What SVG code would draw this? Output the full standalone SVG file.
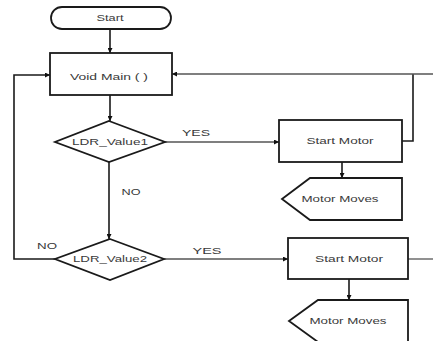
<svg xmlns="http://www.w3.org/2000/svg" width="433" height="341" viewBox="0 0 433 341">
<defs>
<marker id="ah" viewBox="0 0 10 10" refX="10" refY="5" markerWidth="5" markerHeight="5" orient="auto" markerUnits="userSpaceOnUse">
<path d="M0,0 L10,5 L0,10 z" fill="#111"/>
</marker>
<style>
.shape{fill:#fff;stroke:#1a1a1a;stroke-width:1.8}
.line{fill:none;stroke:#1a1a1a;stroke-width:1.6}
.thin{fill:none;stroke:#555;stroke-width:1.3}
text{font-family:"Liberation Sans",Arial,sans-serif;font-size:9px;fill:#3a3a3a;text-anchor:middle}
</style>
</defs>
<rect width="433" height="341" fill="#fff"/>
<g id="connectors">
<line class="line" x1="110" y1="29" x2="110" y2="53" marker-end="url(#ah)"/>
<line class="line" x1="110" y1="95" x2="110" y2="121" marker-end="url(#ah)"/>
<line class="line" x1="109" y1="162" x2="109" y2="239" marker-end="url(#ah)"/>
<line class="thin" x1="165" y1="142" x2="279" y2="142" marker-end="url(#ah)"/>
<line class="thin" x1="164" y1="259" x2="288" y2="259" marker-end="url(#ah)"/>
<polyline class="line" points="55,259 14,259 14,75 50,75" marker-end="url(#ah)"/>
<polyline class="line" points="402,141 413,141 413,74"/>
<line class="thin" x1="433" y1="74" x2="172" y2="74" marker-end="url(#ah)"/>
<line class="thin" x1="408" y1="259" x2="433" y2="259"/>
<line class="line" x1="342" y1="162" x2="342" y2="178" marker-end="url(#ah)"/>
<line class="line" x1="349" y1="279" x2="349" y2="300" marker-end="url(#ah)"/>
</g>
<g id="start">
<rect class="shape" x="51" y="7" width="120" height="22" rx="11" ry="11"/>
<text x="110" y="21" textLength="27" lengthAdjust="spacingAndGlyphs">Start</text>
</g>
<g id="voidmain">
<rect class="shape" x="50" y="53" width="122" height="42"/>
<text x="109" y="80" textLength="78" lengthAdjust="spacingAndGlyphs">Void Main ( )</text>
</g>
<g id="ldr1">
<polygon class="shape" points="109,121 165,142 109,162 55,142"/>
<text x="110" y="145" textLength="76" lengthAdjust="spacingAndGlyphs">LDR_Value1</text>
</g>
<g id="ldr2">
<polygon class="shape" points="110,239 164,259 110,280 55,259"/>
<text x="110" y="262" textLength="74" lengthAdjust="spacingAndGlyphs">LDR_Value2</text>
</g>
<g id="startmotor1">
<rect class="shape" x="279" y="120" width="123" height="42"/>
<text x="340" y="144" textLength="67" lengthAdjust="spacingAndGlyphs">Start Motor</text>
</g>
<g id="motormoves1">
<polygon class="shape" points="282,199 310,178 402,178 402,220 310,220"/>
<text x="340" y="202" textLength="77" lengthAdjust="spacingAndGlyphs">Motor Moves</text>
</g>
<g id="startmotor2">
<rect class="shape" x="288" y="238" width="120" height="41"/>
<text x="349" y="262" textLength="68" lengthAdjust="spacingAndGlyphs">Start Motor</text>
</g>
<g id="motormoves2">
<polygon class="shape" points="289,321 318,300 408,300 408,342 318,342"/>
<text x="348" y="324" textLength="77" lengthAdjust="spacingAndGlyphs">Motor Moves</text>
</g>
<g id="labels">
<text x="196" y="136" textLength="28" lengthAdjust="spacingAndGlyphs">YES</text>
<text x="131" y="195" textLength="19" lengthAdjust="spacingAndGlyphs">NO</text>
<text x="47" y="249" textLength="20" lengthAdjust="spacingAndGlyphs">NO</text>
<text x="207" y="254" textLength="29" lengthAdjust="spacingAndGlyphs">YES</text>
</g>
</svg>
